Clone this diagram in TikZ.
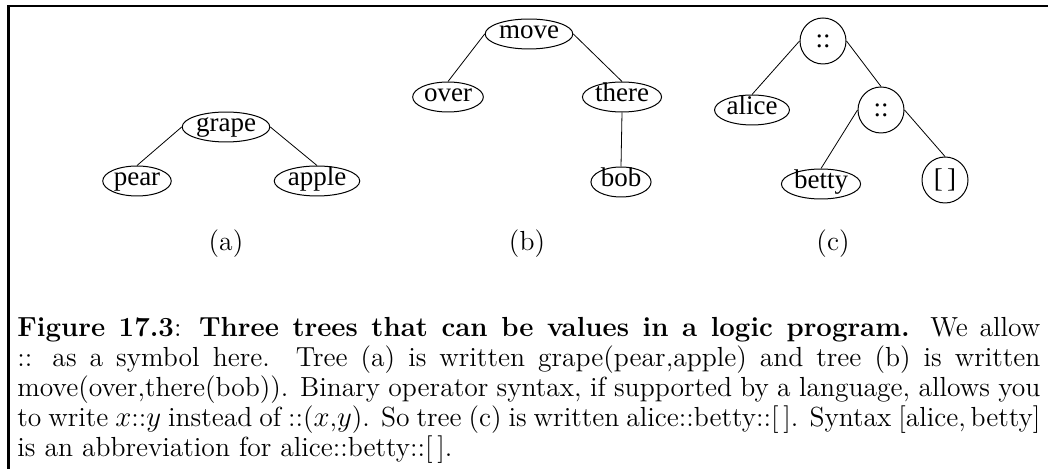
\documentclass[tikz,border=0pt]{standalone}
\usepackage{fontspec}
\newfontfamily\tnr{Liberation Serif}
\usetikzlibrary{shapes.geometric}
\newcommand{\mycapline}[1]{\makebox[511.5pt][s]{#1}}
\tikzset{
  leaf/.style={ellipse, draw, line width=0.5pt, inner sep=0.5pt,
    font=\tnr\fontsize{13.5}{14}\selectfont, text height=7pt, text depth=2.6pt},
  op/.style={circle, draw, line width=0.5pt, inner sep=0pt, minimum size=23pt,
    font=\tnr\fontsize{13.5}{14}\selectfont},
  link/.style={line width=0.4pt},
  sublabel/.style={font=\fontsize{13.8}{14.5}\selectfont, inner sep=0pt},
  capline/.style={anchor=base west, inner sep=0pt, font=\fontsize{13.8}{14.5}\selectfont},
  frame/.style={line width=1.35pt}
}
\begin{document}
\begin{tikzpicture}[x=0.5pt,y=-0.5pt]
\useasboundingbox (0,0) rectangle (1048,469);
\coordinate (fb) at (8.7,469);
\coordinate (fc) at (8.7,6);
\coordinate (fr) at (1048,6);
\draw[frame] (fb) -- (fc) -- (fr);

% tree (a)
\node[leaf] (grape) at (226,127) {grape};
\node[leaf] (pear)  at (137,181) {pear};
\node[leaf] (apple) at (317,181) {apple};
\draw[link] (grape.west) -- (pear.north);
\draw[link] (grape.east) -- (apple.north);
\node[sublabel] (la) at (226,244) {(a)};

% tree (b)
\node[leaf] (move)  at (529,34) {move};
\node[leaf] (over)  at (448,97) {over};
\node[leaf] (there) at (622,97) {there};
\node[leaf] (bob)   at (621,182) {bob};
\draw[link] (move.west) -- (over.north);
\draw[link] (move.east) -- (there.north);
\draw[link] (there.south) -- (bob.north);
\node[sublabel] (lb) at (527,244) {(b)};

% tree (c)
\node[op]   (c1)    at (823,41) {::};
\node[leaf] (alice) at (752,110) {alice};
\node[op]   (c2)    at (881,110) {::};
\node[leaf] (betty) at (821,184) {betty};
\node[op]   (nil)   at (945,180) {[\,]};
\draw[link] (c1.west) -- (alice.north);
\draw[link] (c1.east) -- (c2.north);
\draw[link] (c2.west) -- (betty.north);
\draw[link] (c2.east) -- (nil.north);
\node[sublabel] (lc) at (833,244) {(c)};

% caption
\node[capline] (cap1) at (17,337) {\mycapline{\textbf{Figure 17.3}: \textbf{Three trees that can be values in a logic program.} We allow}};
\node[capline] (cap2) at (17,367) {\mycapline{:: as a symbol here.\ \ Tree (a) is written grape(pear,apple) and tree (b) is written}};
\node[capline] (cap3) at (17,397) {\mycapline{move(over,there(bob)). Binary operator syntax, if supported by a language, allows you}};
\node[capline] (cap4) at (17,427) {\mycapline{to write $x$::$y$ instead of ::($x$,$y$). So tree (c) is written alice::betty::[\,]. Syntax [alice,\,betty]}};
\node[capline] (cap5) at (17,457) {is an abbreviation for alice::betty::[\,].};
\end{tikzpicture}
\end{document}
